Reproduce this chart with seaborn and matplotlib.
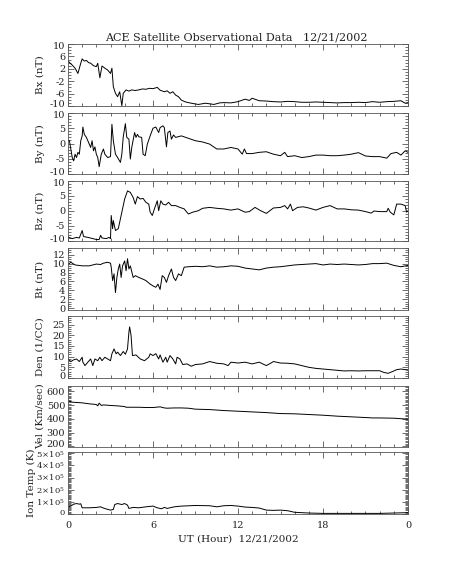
import matplotlib
matplotlib.use('Agg')
import matplotlib.pyplot as plt
import seaborn as sns
import pandas as pd
from matplotlib.ticker import MultipleLocator

# ---------------------------------------------------------
# 資料
# ---------------------------------------------------------
bx_hour = [0, 0.15, 0.3, 0.5, 0.7, 0.9, 1.0, 1.15, 1.3, 1.45, 1.6, 1.8, 2.0, 2.1, 2.25, 2.4,
           2.6, 2.8, 3.0, 3.1, 3.2, 3.35, 3.5, 3.65, 3.8, 3.9, 4.1, 4.3, 4.5, 4.75, 5.0, 5.25,
           5.5, 5.75, 6.0, 6.3, 6.5, 6.8, 7.0, 7.2, 7.4, 7.6, 7.8, 8.0, 8.3, 8.7, 9.2, 9.7,
           10.0, 10.3, 10.7, 11.0, 11.5, 12.0, 12.5, 12.8, 13.0, 13.5, 14.0, 14.5, 15.0, 15.5,
           16.0, 16.5, 17.0, 17.5, 18.0, 18.5, 19.0, 19.5, 20.0, 20.5, 21.0, 21.5, 22.0, 22.5,
           23.0, 23.5, 23.8, 24.0]
bx_nt = [4.6, 3.8, 3.2, 2.2, 0.5, 3.8, 5.2, 4.5, 4.7, 4.0, 3.8, 3.0, 2.7, 3.8, -0.9, 2.9,
         2.2, 1.6, 0.5, 2.2, -3.8, -5.9, -7.0, -5.4, -9.9, -5.9, -4.8, -5.2, -4.8, -5.0, -4.8, -4.5,
         -4.6, -4.3, -4.4, -4.0, -4.9, -5.4, -5.1, -5.9, -5.4, -6.5, -7.0, -8.1, -8.7, -9.1, -9.5, -9.1,
         -9.3, -9.5, -9.0, -8.9, -9.0, -8.6, -7.8, -8.2, -7.5, -8.3, -8.4, -8.6, -8.7, -8.5,
         -8.6, -8.8, -8.8, -8.7, -8.8, -8.9, -9.0, -8.9, -8.9, -8.8, -8.9, -8.6, -8.8, -8.6,
         -8.5, -8.3, -9.1, -8.9]

by_hour = [0, 0.1, 0.3, 0.4, 0.5, 0.6, 0.7, 0.8, 0.9, 1.0, 1.05, 1.15, 1.3, 1.5, 1.6, 1.7,
           1.8, 1.9, 2.0, 2.1, 2.2, 2.35, 2.5, 2.6, 2.8, 3.0, 3.1, 3.2, 3.35, 3.5, 3.7, 3.8,
           3.9, 4.05, 4.15, 4.3, 4.4, 4.5, 4.7, 4.8, 4.9, 5.0, 5.2, 5.3, 5.45, 5.6, 5.8, 6.0,
           6.2, 6.4, 6.5, 6.7, 6.8, 6.95, 7.05, 7.2, 7.3, 7.45, 7.6, 8.0, 8.5, 9.0, 9.5, 10.0,
           10.5, 11.0, 11.5, 12.0, 12.3, 12.45, 12.6, 13.0, 13.5, 14.0, 14.5, 15.0, 15.3, 15.5,
           16.0, 16.5, 17.0, 17.5, 18.0, 18.5, 19.0, 19.5, 20.0, 20.5, 21.0, 21.5, 22.0, 22.5,
           22.8, 23.2, 23.5, 23.8, 24.0]
by_nt = [1.1, 0.9, -4.6, -5.7, -3.5, -4.6, -2.9, -3.5, 0.9, 2.5, 5.4, 3.0, 2.0, -0.2, -1.3, 0.9,
         -2.4, -1.1, -3.5, -4.6, -7.6, -3.5, -1.8, -3.5, -4.6, -4.3, 6.3, 0.9, -3.5, -4.6, -6.2, -3.5,
         2.2, 6.5, 2.0, 1.4, -5.1, -1.3, 3.6, 2.0, 3.0, 2.2, 2.0, -3.5, -4.0, -0.2, 2.5, 5.0,
         5.4, 3.6, 5.2, 5.8, 5.2, -1.1, 3.6, 4.1, 1.4, 2.8, 2.0, 2.5, 1.7, 0.9, 0.5, -0.2,
         -1.8, -1.8, -1.3, -1.8, -3.5, -1.8, -3.3, -3.3, -2.9, -2.7, -3.5, -4.0, -2.9, -4.3,
         -4.0, -4.6, -4.3, -3.8, -3.8, -4.0, -4.0, -3.8, -3.5, -3.0, -4.1, -4.3, -4.3, -4.8,
         -3.3, -2.9, -3.8, -2.4, -2.9]

bz_hour = [0, 0.3, 0.6, 0.8, 1.0, 1.1, 1.5, 2.0, 2.2, 2.3, 2.4, 2.7, 2.9, 3.0, 3.05, 3.15,
           3.2, 3.35, 3.55, 3.8, 4.0, 4.2, 4.4, 4.6, 4.75, 4.9, 5.1, 5.3, 5.5, 5.7, 5.8, 5.95,
           6.1, 6.3, 6.4, 6.55, 6.7, 6.9, 7.1, 7.3, 7.6, 7.9, 8.2, 8.5, 8.8, 9.2, 9.5, 10.0,
           10.5, 11.0, 11.5, 12.0, 12.5, 12.8, 13.2, 13.6, 14.0, 14.5, 15.0, 15.3, 15.5, 15.7,
           15.85, 16.2, 16.6, 17.0, 17.5, 18.0, 18.5, 19.0, 19.5, 20.0, 20.5, 21.0, 21.4, 21.6,
           22.0, 22.5, 22.6, 22.75, 23.0, 23.2, 23.5, 23.8, 23.9, 24.0]
bz_nt = [-8.7, -9.2, -8.8, -9.0, -6.5, -8.5, -8.9, -9.5, -9.5, -8.1, -9.0, -9.2, -8.8, -9.2, -1.5, -5.9,
         -3.2, -6.5, -5.9, -0.4, 4.0, 6.7, 6.2, 4.5, 2.3, 4.8, 4.0, 4.2, 2.9, 2.3, -0.4, -1.5,
         0.7, 3.4, 0.1, 3.4, 2.3, 2.0, 2.9, 1.8, 1.8, 1.2, 0.7, -1.0, -0.4, 0.1, 0.9, 1.2,
         0.9, 0.7, 0.3, 0.7, -0.4, -0.2, 1.2, 0.1, -0.8, 1.0, 1.2, 1.8, 0.7, 2.3,
         0.1, 1.2, 1.4, 1.0, 0.3, 1.2, 1.8, 0.7, 0.7, 0.4, 0.3, -0.2, -0.7, 0.0,
         -0.2, -0.2, 0.9, -0.4, -1.3, 2.3, 2.3, 1.8, -0.4, 0.1]

bt_hour = [0, 0.2, 0.5, 1.0, 1.5, 2.0, 2.3, 2.5, 2.8, 3.0, 3.05, 3.15, 3.25, 3.35, 3.45, 3.55,
           3.65, 3.75, 3.85, 4.0, 4.1, 4.2, 4.3, 4.4, 4.6, 4.75, 5.0, 5.3, 5.5, 5.8, 6.0, 6.2,
           6.35, 6.5, 6.65, 6.8, 6.95, 7.1, 7.3, 7.45, 7.6, 7.8, 8.0, 8.2, 8.5, 9.0, 9.5, 10.0,
           10.5, 11.0, 11.5, 12.0, 12.5, 13.0, 13.5, 14.0, 14.5, 15.0, 15.5, 16.0, 16.5, 17.0,
           17.5, 18.0, 18.5, 19.0, 19.5, 20.0, 20.5, 21.0, 21.5, 22.0, 22.5, 23.0, 23.5, 24.0]
bt_nt = [9.8, 10.3, 9.7, 9.5, 9.5, 9.9, 9.8, 10.1, 10.3, 10.1, 9.2, 6.2, 7.7, 3.5, 6.9, 8.8,
         9.9, 6.9, 9.5, 10.6, 8.4, 11.1, 8.8, 9.5, 6.9, 7.3, 6.9, 6.5, 6.2, 5.4, 5.0, 4.7,
         5.4, 4.2, 7.3, 6.9, 5.8, 7.3, 8.8, 6.9, 6.2, 7.7, 7.3, 9.2, 9.3, 9.4, 9.3, 9.5,
         9.2, 9.3, 9.5, 9.4, 9.0, 8.8, 8.6, 9.0, 9.2, 9.3, 9.5, 9.7, 9.8, 9.9,
         10.0, 9.7, 9.9, 9.8, 9.9, 9.8, 9.7, 9.8, 10.0, 10.0, 10.1, 9.6, 9.3, 9.6]

den_hour = [0, 0.2, 0.4, 0.6, 0.8, 1.0, 1.05, 1.2, 1.4, 1.6, 1.75, 1.9, 2.1, 2.25, 2.4, 2.6,
            2.8, 3.0, 3.1, 3.25, 3.4, 3.5, 3.7, 3.9, 4.05, 4.2, 4.3, 4.35, 4.45, 4.55, 4.8, 5.1,
            5.4, 5.7, 5.8, 6.0, 6.2, 6.4, 6.5, 6.7, 6.9, 7.0, 7.2, 7.4, 7.6, 7.7, 7.9, 8.1,
            8.4, 8.7, 9.0, 9.5, 10.0, 10.5, 11.0, 11.3, 11.5, 12.0, 12.5, 13.0, 13.5, 14.0,
            14.3, 14.5, 15.0, 15.5, 16.0, 16.5, 17.0, 17.5, 18.0, 18.5, 19.0, 19.5, 20.0, 20.5,
            21.0, 21.5, 22.0, 22.3, 22.6, 22.9, 23.2, 23.5, 23.8, 24.0]
den_cc = [8.9, 7.7, 8.5, 8.9, 7.7, 9.7, 7.4, 5.8, 7.4, 8.9, 5.8, 8.9, 8.1, 9.7, 8.1, 9.7,
          8.9, 8.1, 11.3, 13.6, 11.3, 12.1, 10.5, 12.4, 11.1, 13.6, 21.5, 23.9, 20.0, 10.5, 10.8, 8.9,
          8.1, 9.7, 11.3, 10.5, 11.4, 8.9, 10.8, 7.4, 9.7, 7.4, 10.5, 8.9, 6.6, 9.7, 8.9, 6.3,
          6.6, 5.5, 6.3, 6.6, 7.7, 6.9, 6.6, 5.8, 7.4, 7.0, 7.4, 6.6, 7.4, 5.8,
          6.9, 7.7, 7.0, 6.9, 6.6, 5.8, 5.0, 4.5, 4.2, 3.9, 3.6, 3.3, 3.4, 3.3,
          3.4, 3.4, 3.4, 2.6, 2.2, 3.0, 3.9, 4.2, 3.9, 3.6]

vel_hour = [0, 0.3, 0.6, 1.0, 1.5, 2.0, 2.1, 2.2, 2.35, 2.5, 3.0, 3.5, 4.0, 4.1, 4.5, 5.0,
            5.5, 6.0, 6.5, 6.8, 7.0, 7.5, 8.0, 8.5, 9.0, 10.0, 11.0, 12.0, 13.0, 14.0, 15.0, 16.0,
            17.0, 18.0, 19.0, 20.0, 21.0, 21.5, 22.0, 23.0, 24.0]
vel_kms = [532, 522, 520, 517, 510, 505, 495, 515, 498, 502, 498, 495, 490, 485, 485, 485,
           483, 483, 488, 480, 478, 480, 480, 478, 471, 468, 461, 456, 451, 446, 439, 437,
           432, 427, 420, 415, 410, 407, 407, 405, 398]

temp_hour = [0, 0.2, 0.4, 0.6, 0.8, 0.9, 1.0, 1.5, 2.0, 2.3, 2.5, 2.8, 3.0, 3.2, 3.3, 3.5,
             3.8, 4.0, 4.2, 4.3, 4.6, 5.0, 5.5, 6.0, 6.3, 6.6, 6.8, 7.0, 7.5, 8.0, 9.0, 10.0,
             10.5, 11.0, 11.5, 12.0, 12.5, 13.0, 13.5, 14.0, 14.5, 15.0, 15.5, 16.0, 17.0, 18.0,
             19.0, 20.0, 21.0, 22.0, 23.0, 24.0]
temp_k = [0.59e5, 0.65e5, 0.81e5, 0.86e5, 0.81e5, 0.84e5, 0.51e5, 0.51e5, 0.54e5, 0.59e5, 0.49e5,
          0.38e5, 0.32e5, 0.38e5, 0.78e5, 0.86e5, 0.78e5, 0.86e5, 0.73e5, 0.46e5, 0.54e5, 0.51e5,
          0.59e5, 0.65e5, 0.51e5, 0.43e5, 0.54e5, 0.46e5, 0.59e5, 0.65e5, 0.70e5, 0.68e5, 0.59e5,
          0.68e5, 0.70e5, 0.65e5, 0.57e5, 0.54e5, 0.49e5, 0.32e5, 0.30e5, 0.32e5, 0.27e5, 0.14e5,
          0.08e5, 0.05e5, 0.05e5, 0.05e5, 0.05e5, 0.05e5, 0.08e5, 0.11e5]

hour_ticks = [0, 6, 12, 18, 24]
hour_labels = ['0', '6', '12', '18', '0']

# ---------------------------------------------------------
# 風格設定
# ---------------------------------------------------------
sns.set_style("white")
plt.rcParams['font.family'] = ['DejaVu Serif']
plt.rcParams['mathtext.fontset'] = 'dejavuserif'
plt.rcParams['axes.unicode_minus'] = False

W, H = 453, 566
fig = plt.figure(figsize=(W / 100, H / 100), dpi=100)
fig.patch.set_facecolor('white')

# 每一格: (top px, bottom px, x, y, ylabel, ylim, yticks, minor step, label x)
panels = [
    (44, 106, bx_hour, bx_nt, 'Bx (nT)', (-10, 10), [-10, -6, -2, 2, 6, 10], 1, 40),
    (113, 174, by_hour, by_nt, 'By (nT)', (-10, 10), [-10, -5, 0, 5, 10], 1, 40),
    (181, 241, bz_hour, bz_nt, 'Bz (nT)', (-10, 10), [-10, -5, 0, 5, 10], 1, 40),
    (248, 310, bt_hour, bt_nt, 'Bt (nT)', (-0.4, 13.5), [0, 2, 4, 6, 8, 10, 12], 0.5, 40),
    (316, 378, den_hour, den_cc, 'Den (1/CC)', (0, 29), [0, 5, 10, 15, 20, 25], 1, 40),
    (386, 447, vel_hour, vel_kms, 'Vel (Km/sec)', (195, 640), [200, 300, 400, 500, 600], 10, 40),
    (452, 514, temp_hour, temp_k, 'Ion Temp (K)', (0, 5.1e5), [0, 1e5, 2e5, 3e5, 4e5, 5e5], 1e4, 31),
]

left, right = 68, 408
fcol = '#333333'
tcol = '#222222'
for i, (top, bot, xs, ys, lab, ylim, yticks, ystep, labx) in enumerate(panels):
    ax = fig.add_axes([left / W, 1 - bot / H, (right - left) / W, (bot - top) / H])
    df = pd.DataFrame({'hour': xs, 'val': ys})
    sns.lineplot(data=df, x='hour', y='val', ax=ax, color='black', lw=0.7, estimator=None)
    ax.set_xlim(0, 24)
    ax.set_ylim(*ylim)
    ax.set_xticks(hour_ticks)
    ax.xaxis.set_minor_locator(MultipleLocator(1))
    ax.set_yticks(yticks)
    ax.yaxis.set_minor_locator(MultipleLocator(ystep))

    if lab == 'Ion Temp (K)':
        texts = ['0'] + [r'$%d\!\times\!10^{5}$' % k for k in range(1, 6)]
        fs = 6
    else:
        texts = [str(t) for t in yticks]
        fs = 7
    # IDL 風格: 邊界上的刻度標籤稍微往內縮, 改用 annotate 畫
    span = ylim[1] - ylim[0]
    shown = list(texts)
    edge = []
    if yticks[0] <= ylim[0] + 0.02 * span:
        edge.append((0, 1.0))
    if yticks[-1] >= ylim[1] - 0.02 * span:
        edge.append((len(yticks) - 1, -1.8))
    for k, dy in edge:
        shown[k] = ''
        ax.annotate(texts[k], xy=(0, yticks[k]), xycoords=('axes fraction', 'data'),
                    xytext=(-2, dy), textcoords='offset points', ha='right', va='center',
                    fontsize=fs, color=tcol, annotation_clip=False)
    ax.set_yticklabels(shown, fontsize=fs)

    ax.tick_params(which='both', direction='in', bottom=True, top=True, left=True, right=True,
                   color=fcol, width=0.5, pad=2, labelcolor=tcol)
    ax.tick_params(axis='x', labelsize=7)
    ax.tick_params(which='major', length=4)
    ax.tick_params(which='minor', length=2)
    for s in ax.spines.values():
        s.set_color('#555555')
        s.set_linewidth(0.6)
    ax.set_xlabel('')
    ax.set_ylabel(lab, fontsize=7.5, color=tcol)
    if i < len(panels) - 1:
        ax.set_xticklabels([])
    else:
        ax.set_xticklabels(hour_labels)
        ax.tick_params(axis='x', pad=5)
        ax.set_xlabel('UT (Hour)  12/21/2002', fontsize=7.5, color=tcol, labelpad=3)
    # 標籤中心位置 (像素)
    ax.yaxis.set_label_coords((labx - left) / (right - left), 0.5)
    ax.yaxis.label.set_va('center')

fig.text(236 / W, 1 - 37 / H, 'ACE Satellite Observational Data   12/21/2002',
         ha='center', va='center', fontsize=8, color=tcol)

fig.savefig('out.png', dpi=100, facecolor='white')
